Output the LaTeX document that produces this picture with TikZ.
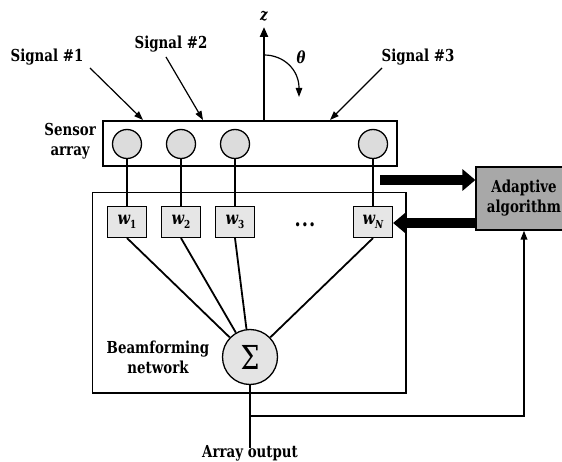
\documentclass[tikz,border=0pt]{standalone}
\usepackage{fontspec}
\setmainfont{DejaVu Serif}[FakeStretch=0.81]
\usetikzlibrary{arrows.meta}
\definecolor{sensorfill}{HTML}{DCDCDC}
\definecolor{weightfill}{HTML}{E6E6E6}
\definecolor{sumfill}{HTML}{E4E4E4}
\definecolor{algofill}{HTML}{A8A8A8}
\begin{document}
\begin{tikzpicture}[x=1pt,y=-1pt,
  lbl/.style={font=\fontsize{16.5}{20}\selectfont\bfseries, inner sep=0pt, align=center},
  frame/.style={draw, rectangle, line width=1.2pt, inner sep=0pt},
  sensor/.style={circle, draw, line width=1.3pt, fill=sensorfill, minimum size=29pt, inner sep=0pt},
  wbox/.style={draw, rectangle, line width=1.2pt, fill=weightfill, minimum width=39pt, minimum height=31pt, inner sep=0pt,
    font=\fontsize{18}{18}\selectfont\bfseries},
  sumnode/.style={circle, draw, line width=1.3pt, fill=sumfill, minimum size=55pt, inner sep=0pt,
    font=\fontsize{33}{33}\selectfont},
  sigarrow/.style={line width=1.2pt, -{Triangle[length=9pt,width=6.5pt]}},
  wire/.style={line width=2.2pt},
  tap/.style={line width=1.8pt},
  fatarrow/.style={line width=10pt, -{Triangle[length=13pt,width=21pt]}},
]
\useasboundingbox (0,0) rectangle (562,462);

% incoming signals
\node[lbl] (sig1) at (47,57) {Signal \#1};
\node[lbl] (sig2) at (171,44) {Signal \#2};
\node[lbl] (sig3) at (418,57) {Signal \#3};

% sensor array
\node[frame, minimum width=294pt, minimum height=45pt] (sarr) at (250,143.5) {};
\node[lbl, anchor=east] (sarrlab) at (96,141) {Sensor\\array};
\foreach \i/\x in {1/127,2/181,3/235,N/373}
  \node[sensor] (s\i) at (\x,144) {};

% z axis and angle
\coordinate (zbase) at (264,121);
\coordinate (ztip) at (264,27);
\node[lbl] (zlab) at (264,16) {\itshape z};
\draw[line width=2.2pt, -{Triangle[length=10pt,width=8pt]}] (zbase) -- (ztip);
\coordinate (tstart) at (264,55);
\coordinate (tend) at (299,97);
\draw[line width=1.2pt, -{Triangle[length=9pt,width=6.5pt]}]
  (tstart) .. controls (284,55) and (299,70) .. (299,88) -- (tend);
\node[lbl] (thlab) at (301,57) {\itshape θ};

% signal arrows onto the array
\coordinate (a1s) at (90,68);   \coordinate (a1e) at (143,120);
\coordinate (a2s) at (166,57);  \coordinate (a2e) at (203,120);
\coordinate (a3s) at (382,68);  \coordinate (a3e) at (330,120);
\draw[sigarrow] (a1s) -- (a1e);
\draw[sigarrow] (a2s) -- (a2e);
\draw[sigarrow] (a3s) -- (a3e);

% beamforming network
\node[frame, minimum width=313.5pt, minimum height=200.5pt] (bfn) at (249.25,292.75) {};
\node[wbox] (w1) at (127,222) {\itshape w\raisebox{-3.5pt}{\fontsize{11}{11}\selectfont\upshape 1}};
\node[wbox] (w2) at (181,222) {\itshape w\raisebox{-3.5pt}{\fontsize{11}{11}\selectfont\upshape 2}};
\node[wbox] (w3) at (235,222) {\itshape w\raisebox{-3.5pt}{\fontsize{11}{11}\selectfont\upshape 3}};
\node[wbox] (wN) at (373,222) {\itshape w\raisebox{-3.5pt}{\fontsize{11}{11}\selectfont N}};
\node[lbl, anchor=base, font=\fontsize{22}{22}\selectfont\bfseries] (dots) at (305,227) {.\hspace{1pt}.\hspace{1pt}.};
\node[sumnode] (sum) at (250,357) {Σ};
\node[lbl] (bfnlab) at (158,357) {Beamforming\\network};

\foreach \i in {1,2,3,N} {
  \draw[wire] (s\i.south) -- (w\i.north);
  \draw[tap] (w\i.south) -- (sum);
}

% adaptive algorithm
\node[frame, fill=algofill, minimum width=96pt, minimum height=63pt] (adapt) at (524,198.5) {};
\node[lbl] (adaptlab) at (524,198.5) {Adaptive\\algorithm};
\coordinate (fatin) at (380,180);
\draw[fatarrow] (fatin) -- (fatin -| adapt.west);
\draw[fatarrow] (adapt.west |- 0,223) -- (wN.east |- 0,223);

% array output and feedback
\node[lbl] (out) at (250,453) {Array output};
\coordinate (fb) at (250,416);
\draw[line width=2.2pt] (sum.south) -- ([yshift=-3pt]out.north);
\draw[line width=1.8pt, -{Triangle[length=9pt,width=6.5pt]}] (fb) -| (adapt.south);
\end{tikzpicture}
\end{document}
